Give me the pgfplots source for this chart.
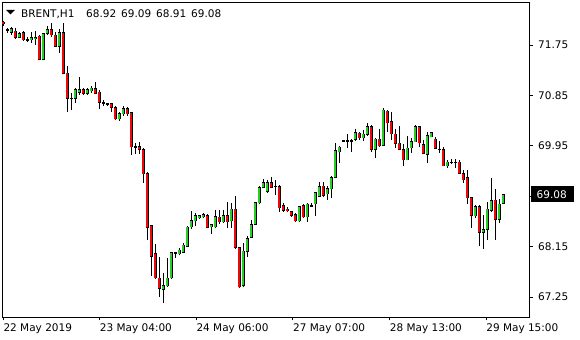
\documentclass[border=0pt]{standalone}
\usepackage{fontspec}
\setmainfont{DejaVu Sans}
\usepackage{pgfplots}
\pgfplotsset{compat=1.18}
\usepackage{pgfplotstable}
\definecolor{bullc}{RGB}{40,205,40}
\definecolor{bearc}{RGB}{235,10,10}

% bearish candles (close < open): bar index, open, high, low, close
\pgfplotstableread{
x o h l c
1 72.16 72.18 72.09 72.13
2 72.02 72.05 71.96 72.01
4 72.00 72.05 71.86 71.88
6 71.98 72.00 71.82 71.84
7 71.85 71.89 71.80 71.84
10 71.91 71.93 71.48 71.50
13 72.02 72.14 71.89 71.93
14 71.93 71.98 71.71 71.73
16 71.98 72.14 71.23 71.25
17 71.25 71.38 70.55 70.80
18 70.80 70.89 70.59 70.79
21 70.95 70.98 70.86 70.89
24 70.98 71.09 70.88 70.89
25 70.91 70.95 70.61 70.73
26 70.72 70.77 70.66 70.71
27 70.70 70.71 70.66 70.69
28 70.70 70.71 70.55 70.64
29 70.64 70.66 70.41 70.43
32 70.61 70.64 70.48 70.52
33 70.54 70.55 69.79 69.93
34 69.93 70.00 69.80 69.92
35 69.93 70.02 69.80 69.89
36 69.89 69.91 69.29 69.45
37 69.46 69.48 68.27 68.50
38 68.52 68.54 67.63 67.98
39 68.02 68.20 67.57 67.59
40 67.59 67.96 67.25 67.41
52 68.71 68.73 68.48 68.50
55 68.68 68.80 68.55 68.59
57 68.71 68.95 68.48 68.59
59 68.82 69.05 68.11 68.13
60 68.13 68.14 67.41 67.43
68 69.29 69.39 69.20 69.21
69 69.23 69.34 69.07 69.22
70 69.23 69.25 68.77 68.84
71 68.88 68.93 68.77 68.79
72 68.82 68.86 68.77 68.79
73 68.77 68.79 68.68 68.70
74 68.73 68.75 68.59 68.61
76 68.88 68.91 68.66 68.68
78 68.89 68.93 68.86 68.88
81 69.23 69.30 69.04 69.07
86 70.04 70.05 70.03 70.04
87 70.04 70.16 69.91 70.03
90 70.18 70.20 70.05 70.09
93 70.29 70.32 69.84 69.88
95 70.07 70.25 69.93 69.95
97 70.57 70.59 70.20 70.36
98 70.38 70.55 70.05 70.16
99 70.16 70.25 69.91 70.00
100 70.00 70.30 69.88 69.89
101 69.89 69.98 69.59 69.70
105 70.29 70.30 69.93 70.00
106 69.98 70.05 69.80 69.82
109 70.07 70.11 69.89 69.91
110 69.89 70.04 69.82 69.88
111 69.88 69.93 69.59 69.59
113 69.66 69.71 69.63 69.66
114 69.66 69.71 69.55 69.66
115 69.66 69.70 69.45 69.46
116 69.46 69.52 69.29 69.34
117 69.38 69.52 68.91 69.02
118 69.02 69.02 68.48 68.70
120 68.86 68.89 68.16 68.41
124 68.98 69.18 68.27 68.64
}\beartab

% bullish candles (close >= open)
\pgfplotstableread{
x o h l c
3 71.98 72.07 71.93 72.04
5 71.89 71.98 71.88 71.96
8 71.84 71.98 71.79 71.89
9 71.86 72.00 71.75 71.88
11 71.50 71.96 71.48 71.95
12 71.95 72.09 71.93 72.02
15 71.73 72.04 71.61 71.98
19 70.79 70.98 70.71 70.95
20 70.91 71.18 70.86 70.96
22 70.88 70.98 70.86 70.96
23 70.93 71.02 70.89 70.98
30 70.43 70.55 70.39 70.52
31 70.52 70.66 70.48 70.61
41 67.39 67.68 67.14 67.46
42 67.45 67.95 67.43 67.59
43 67.59 68.05 67.57 68.04
44 68.03 68.05 67.95 68.04
45 68.02 68.13 68.00 68.09
46 68.05 68.21 68.04 68.18
47 68.16 68.52 68.14 68.50
48 68.50 68.79 68.46 68.61
49 68.61 68.75 68.52 68.70
50 68.66 68.71 68.64 68.70
51 68.68 68.75 68.66 68.73
53 68.50 68.55 68.38 68.54
54 68.50 68.80 68.48 68.68
56 68.59 68.80 68.57 68.70
58 68.61 68.93 68.48 68.82
61 67.45 68.21 67.43 68.07
62 68.07 68.34 67.96 68.30
63 68.32 68.63 68.30 68.55
64 68.55 68.95 68.54 68.93
65 68.93 69.23 68.91 69.21
66 69.21 69.36 69.20 69.30
67 69.14 69.34 69.11 69.29
75 68.61 68.88 68.59 68.86
77 68.68 68.93 68.59 68.91
79 68.91 69.13 68.70 69.11
80 69.05 69.30 69.04 69.23
82 69.09 69.23 68.98 69.18
83 69.18 69.41 69.02 69.39
84 69.39 70.00 69.38 69.86
85 69.84 69.95 69.64 69.93
88 70.04 70.07 69.84 70.05
89 70.07 70.25 70.04 70.18
91 70.09 70.23 70.04 70.16
92 70.16 70.36 70.13 70.29
94 69.88 70.09 69.73 70.07
96 69.96 70.63 69.95 70.59
102 69.70 70.13 69.70 69.91
103 69.91 70.09 69.82 70.02
104 70.02 70.32 70.02 70.30
107 69.80 70.20 69.64 70.14
108 70.11 70.20 70.11 70.18
112 69.59 69.70 69.55 69.66
119 68.70 68.89 68.66 68.86
121 68.41 68.71 68.11 68.46
122 68.46 68.95 68.27 68.82
123 68.79 69.38 68.77 68.98
125 68.64 69.00 68.57 68.91
126 68.92 69.09 68.91 69.08
}\bulltab

\pgfplotsset{
  wick/.style={draw=none, mark=none,
    error bars/.cd, y dir=both, y explicit, error mark=none,
    error bar style={draw=black, line width=0.9bp}},
  bodyedge/.style={draw=none, mark=none,
    error bars/.cd, y dir=both, y explicit, error mark=none,
    error bar style={draw=black, line width=3.4bp}},
  bodyfill/.style={draw=none, mark=none,
    error bars/.cd, y dir=both, y explicit, error mark=none,
    error bar style={draw=#1, line width=2.1bp}},
}
\newcommand\lblfont{\fontsize{10.5bp}{12bp}\selectfont}

\begin{document}
\begin{tikzpicture}
\useasboundingbox (0,0) rectangle (580bp,340bp);
\begin{axis}[
  at={(2bp,23bp)}, anchor=south west,
  scale only axis, width=527bp, height=315bp,
  xmin=0.667, xmax=132.42, ymin=66.893, ymax=72.518,
  axis line style={black, line width=0.9bp},
  ytick pos=right, xtick pos=bottom,
  tick align=outside, major tick length=3.5bp,
  tick style={black, line width=0.9bp},
  ytick={67.25,68.15,69.05,69.95,70.85,71.75},
  yticklabels={67.25,68.15,,69.95,70.85,71.75},
  xtick={1,25.1,49.25,73.4,97.6,121.7},
  xticklabels={22 May 2019,23 May 04:00,24 May 06:00,27 May 07:00,28 May 13:00,29 May 15:00},
  yticklabel style={anchor=west, inner sep=0pt, xshift=5.5bp, font=\lblfont},
  xticklabel style={anchor=north west, inner sep=0pt, yshift=-3bp, font=\lblfont},
]
\addplot[wick] table[x=x, y expr={(\thisrow{h}+\thisrow{l})/2}, y error expr={(\thisrow{h}-\thisrow{l})/2}] {\beartab};
\addplot[wick] table[x=x, y expr={(\thisrow{h}+\thisrow{l})/2}, y error expr={(\thisrow{h}-\thisrow{l})/2}] {\bulltab};
\addplot[bodyedge] table[x=x, y expr={(\thisrow{o}+\thisrow{c})/2}, y error expr={abs(\thisrow{c}-\thisrow{o})/2+0.008}] {\beartab};
\addplot[bodyedge] table[x=x, y expr={(\thisrow{o}+\thisrow{c})/2}, y error expr={abs(\thisrow{c}-\thisrow{o})/2+0.008}] {\bulltab};
\addplot[bodyfill=bearc] table[x=x, y expr={(\thisrow{o}+\thisrow{c})/2}, y error expr={max(abs(\thisrow{c}-\thisrow{o})/2-0.006,0)}] {\beartab};
\addplot[bodyfill=bullc] table[x=x, y expr={(\thisrow{o}+\thisrow{c})/2}, y error expr={max(abs(\thisrow{c}-\thisrow{o})/2-0.006,0)}] {\bulltab};
\end{axis}
% header
\fill[black] (6bp,330bp) -- (15bp,330bp) -- (10.5bp,325.5bp) -- cycle;
\node[anchor=base west, inner sep=0pt, font=\lblfont] at (21bp,322.7bp) {BRENT,H1};
\node[anchor=base west, inner sep=0pt, font=\lblfont] at (86bp,322.7bp) {68.92};
\node[anchor=base west, inner sep=0pt, font=\lblfont] at (121bp,322.7bp) {69.09};
\node[anchor=base west, inner sep=0pt, font=\lblfont] at (156bp,322.7bp) {68.91};
\node[anchor=base west, inner sep=0pt, font=\lblfont] at (191bp,322.7bp) {69.08};
% current price box
\fill[black] (531bp,138bp) rectangle (574bp,153.5bp);
\node[anchor=west, inner sep=0pt, text=white, font=\lblfont] at (536.5bp,145.5bp) {69.08};
\end{tikzpicture}
\end{document}
